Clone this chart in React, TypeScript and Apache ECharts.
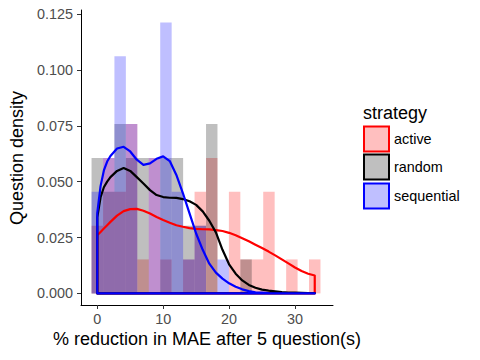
import React, { useEffect, useRef } from "react";
import * as echarts from "echarts";

// Histogram bins (bin centres, shared by all groups)
const binCenters = [0, 1.74, 3.47, 5.21, 6.95, 8.68, 10.42, 12.16, 13.89, 15.63, 17.37, 19.11, 20.84, 22.58, 24.32, 26.05, 27.79, 29.53, 31.26, 33.0];
const binWidth = 1.737;

// Histogram densities per strategy
const activeHist = [0.0303, 0.0606, 0.0455, 0.0758, 0.0152, 0.0606, 0.0152, 0, 0.0152, 0.0455, 0.0606, 0, 0.0455, 0.0152, 0.0152, 0.0455, 0, 0.0152, 0, 0.0152];
const randomHist = [0.0606, 0.0455, 0.0758, 0.0606, 0.0606, 0, 0.0606, 0.0606, 0.0303, 0.0303, 0.0758, 0, 0, 0.0152, 0, 0, 0, 0, 0, 0];
const sequentialHist = [0.0455, 0.0606, 0.1061, 0.0758, 0, 0.0606, 0.1212, 0.0455, 0.0152, 0.0303, 0, 0.0152, 0, 0, 0, 0, 0, 0, 0, 0];

// Density curves
const densX = [0, 0.5, 1, 1.5, 2, 3, 4, 5, 6, 7, 8, 9, 10, 11, 12, 13, 14, 15, 16, 17, 18, 19, 20, 21, 22, 23, 24, 25, 26, 27, 28, 29, 30, 31, 32, 33];
const activeDens = [0.026, 0.0275, 0.029, 0.0305, 0.032, 0.0348, 0.0368, 0.0377, 0.0378, 0.037, 0.0357, 0.0342, 0.0328, 0.0316, 0.0305, 0.0298, 0.0292, 0.0289, 0.0287, 0.0286, 0.0283, 0.0279, 0.0271, 0.026, 0.0247, 0.0233, 0.0218, 0.0203, 0.0187, 0.017, 0.0152, 0.0134, 0.0116, 0.01, 0.0088, 0.008];
const randomDens = [0.034, 0.043, 0.0475, 0.05, 0.052, 0.0548, 0.0561, 0.0548, 0.052, 0.0492, 0.0462, 0.044, 0.0431, 0.0428, 0.0427, 0.0422, 0.0412, 0.0396, 0.0367, 0.0325, 0.0273, 0.0195, 0.013, 0.0088, 0.0058, 0.0038, 0.0025, 0.0017, 0.0012, 0.0009, 0.0006, 0.0004, 0.0003, 0.0002, 0.0001, 0.0001];
const sequentialDens = [0.036, 0.048, 0.055, 0.059, 0.0615, 0.0648, 0.0656, 0.0635, 0.0598, 0.0575, 0.0582, 0.0602, 0.0613, 0.0592, 0.053, 0.0448, 0.0358, 0.0268, 0.0195, 0.0133, 0.0093, 0.0066, 0.0045, 0.003, 0.0018, 0.001, 0.0005, 0.0003, 0.0001, 0, 0, 0, 0, 0, 0, 0];

const strategies = ["active", "random", "sequential"];
const lineColors = ["#FF0000", "#000000", "#0000FF"];
const fillColors = ["rgba(255,0,0,0.25)", "rgba(0,0,0,0.25)", "rgba(0,0,255,0.25)"];
const histData = [activeHist, randomHist, sequentialHist];
const densData = [activeDens, randomDens, sequentialDens];

const xTicks = [0, 10, 20, 30];
const yTicks = [0, 0.025, 0.05, 0.075, 0.1, 0.125];

const FONT = "'Liberation Sans', Arial, Helvetica, sans-serif";

export default function App() {
  const ref = useRef<HTMLDivElement>(null);
  useEffect(() => {
    if (!ref.current) return;
    const chart = echarts.init(ref.current, null, { renderer: "svg" });

    const histSeries = histData.map((h, gi) => ({
      type: "custom",
      name: strategies[gi],
      clip: true,
      data: binCenters.map((c, i) => [c, h[i]]).filter((d) => d[1] > 0),
      renderItem: (params: any, api: any) => {
        const x = api.value(0);
        const v = api.value(1);
        const p0 = api.coord([x - binWidth / 2, v]);
        const p1 = api.coord([x + binWidth / 2, 0]);
        return {
          type: "rect",
          shape: { x: p0[0], y: p0[1], width: p1[0] - p0[0], height: p1[1] - p0[1] },
          style: { fill: fillColors[gi], stroke: "none" },
        };
      },
      z: 1,
    }));

    const densSeries = densData.map((d, gi) => {
      const pts: number[][] = [[densX[0], 0]];
      densX.forEach((x, i) => pts.push([x, d[i]]));
      pts.push([densX[densX.length - 1], 0]);
      pts.push([densX[0], 0]);
      return {
        type: "line",
        name: strategies[gi] + " density",
        data: pts,
        showSymbol: false,
        symbol: "none",
        smooth: false,
        lineStyle: { color: lineColors[gi], width: 2.2, join: "round", cap: "round" },
        z: 2 + gi,
      };
    });

    const legendGraphics: any[] = [
      {
        type: "text",
        left: 363,
        top: 104,
        style: { text: "strategy", font: `18px ${FONT}`, fill: "#000" },
      },
    ];
    const keyCentres = [139, 167, 196];
    strategies.forEach((s, i) => {
      legendGraphics.push({
        type: "rect",
        shape: { x: 364, y: keyCentres[i] - 12.5, width: 25, height: 25 },
        style: { fill: fillColors[i], stroke: lineColors[i], lineWidth: 2 },
      });
      legendGraphics.push({
        type: "text",
        x: 394,
        y: keyCentres[i],
        style: { text: s, font: `14.4px ${FONT}`, fill: "#000", textVerticalAlign: "middle", textAlign: "left" },
      });
    });

    chart.setOption({
      animation: false,
      backgroundColor: "#fff",
      grid: { left: 81, right: 147, top: 10, bottom: 55, containLabel: false },
      xAxis: {
        type: "value",
        min: -2.47,
        max: 35.77,
        splitLine: { show: false },
        axisLine: { show: true, onZero: false, lineStyle: { color: "#000", width: 1 } },
        axisTick: { show: true, length: 4, customValues: xTicks, lineStyle: { color: "#333" } },
        axisLabel: {
          customValues: xTicks,
          color: "#4D4D4D",
          fontSize: 14.4,
          fontFamily: FONT,
          margin: 7,
          formatter: (v: number) => String(v),
        },
      },
      yAxis: {
        type: "value",
        min: -0.0052,
        max: 0.1268,
        splitLine: { show: false },
        axisLine: { show: true, onZero: false, lineStyle: { color: "#000", width: 1 } },
        axisTick: { show: true, length: 4, customValues: yTicks, lineStyle: { color: "#333" } },
        axisLabel: {
          customValues: yTicks,
          color: "#4D4D4D",
          fontSize: 14.4,
          fontFamily: FONT,
          margin: 8,
          formatter: (v: number) => v.toFixed(3),
        },
      },
      graphic: [
        {
          type: "text",
          x: 17,
          y: 158,
          rotation: Math.PI / 2,
          style: { text: "Question density", font: `18px ${FONT}`, fill: "#000", textAlign: "center", textVerticalAlign: "middle" },
        },
        {
          type: "text",
          x: 207,
          y: 339,
          style: { text: "% reduction in MAE after 5 question(s)", font: `18px ${FONT}`, fill: "#000", textAlign: "center", textVerticalAlign: "middle" },
        },
        ...legendGraphics,
      ],
      series: [...histSeries, ...densSeries],
    });
    return () => chart.dispose();
  }, []);
  return <div ref={ref} style={{ position: "fixed", left: 0, top: 0, width: 480, height: 360 }} />;
}
